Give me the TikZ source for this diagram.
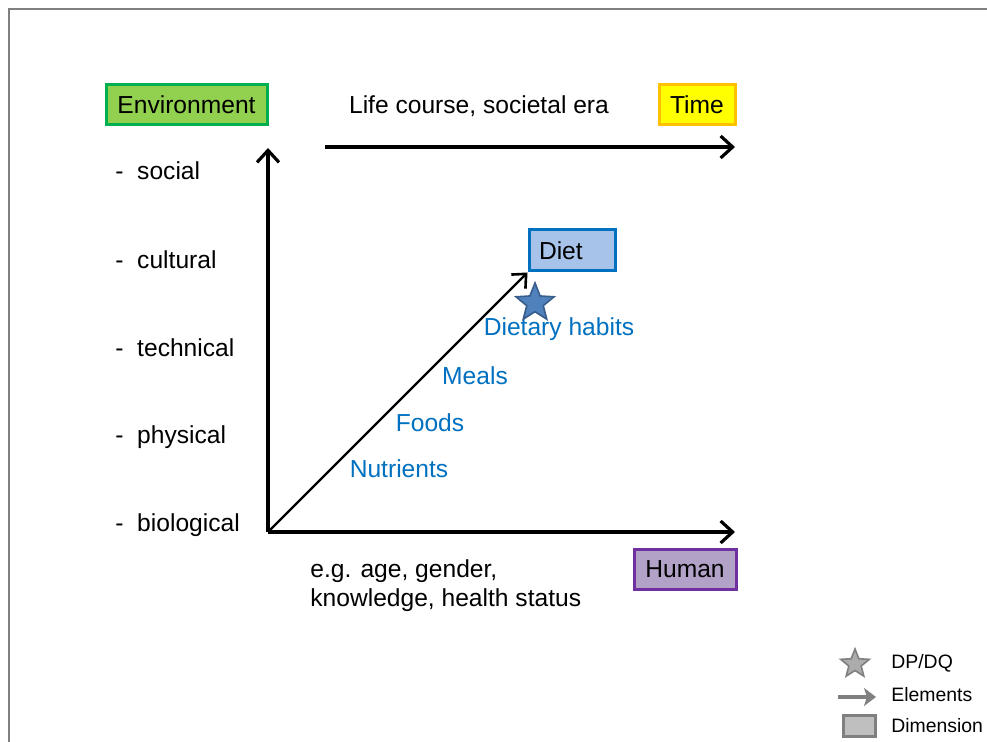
\documentclass[tikz,border=0pt]{standalone}
\usepackage{fontspec}
\setmainfont{Liberation Sans}
\usetikzlibrary{arrows.meta,shapes.geometric}

\definecolor{envfill}{HTML}{92D050}
\definecolor{envline}{HTML}{00B050}
\definecolor{timefill}{HTML}{FFFF00}
\definecolor{timeline}{HTML}{FFC000}
\definecolor{dietfill}{HTML}{A7C3EA}
\definecolor{dietline}{HTML}{0070C0}
\definecolor{humanfill}{HTML}{B3A2C7}
\definecolor{humanline}{HTML}{7030A0}
\definecolor{elemblue}{HTML}{0070C0}
\definecolor{starfill}{HTML}{4F81BD}
\definecolor{starline}{HTML}{385D8A}

\tikzset{
  lbl/.style={inner sep=0pt, font=\fontsize{12.3}{14.5}\selectfont},
  elem/.style={lbl, text=elemblue},
  dimbox/.style={lbl, line width=1.5pt, minimum height=20pt, inner sep=0pt},
  axis/.style={line width=1.6pt, -{Straight Barb[length=6pt,width=11pt,line width=1.6pt]}},
  legend/.style={inner sep=0pt, anchor=west, font=\fontsize{9.7}{11}\selectfont},
}

\begin{document}
\begin{tikzpicture}[x=0.5pt,y=-0.5pt]
        \useasboundingbox (0,0) rectangle (987,742);
        \draw[gray,line width=1.2pt] (990,9) -| (9,745);
        % dimension boxes
        \node[dimbox,fill=envfill,draw=envline,minimum width=80.5pt] (env) at (186.5,105) {Environment};
        \node[dimbox,fill=timefill,draw=timeline,minimum width=38pt] (time) at (697,105) {Time};
        \node[dimbox,fill=humanfill,draw=humanline,minimum width=51pt] (human) at (685,569.5) {Human};
        \node[dimbox,fill=dietfill,draw=dietline,text width=33pt,inner xsep=5pt,align=left,minimum height=20.5pt] (diet) at (572,250.5) {Diet};
        % axes
        \coordinate (origin) at (268,532);
        \coordinate (envtip) at (268,148);
        \coordinate (humtip) at (735,532);
        \coordinate (timestart) at (325,147);
        \coordinate (timetip) at (735,147);
        \draw[axis] (origin) -- (envtip);
        \draw[axis] (origin) -- (humtip);
        \draw[axis] (timestart) -- (timetip);
        \draw[line width=1.2pt,-{Straight Barb[length=5.5pt,width=10pt,line width=1.3pt]}] (origin) -- (diet.south west);
        \node[lbl] (era) at (479,106) {Life course, societal era};
        % environment list
        \node[lbl,anchor=west] (social) at (115,171) {-\ \ social};
        \node[lbl,anchor=west] (cultural) at (115,260) {-\ \ cultural};
        \node[lbl,anchor=west] (technical) at (115,348) {-\ \ technical};
        \node[lbl,anchor=west] (physical) at (115,437) {-\ \ physical};
        \node[lbl,anchor=west] (biological) at (115,525) {-\ \ biological};
        \node[lbl,anchor=west,align=left] (traits) at (310,586) {e.g. age, gender,\\knowledge, health status};
        % elements
        \node[elem] (nutrients) at (399,469) {Nutrients};
        \node[elem] (foods) at (430,423) {Foods};
        \node[elem] (meals) at (475,376) {Meals};
        \node[elem] (habits) at (559,329) {Dietary habits};
        \node[star,star points=5,star point ratio=2.3,fill=starfill,draw=starline,line width=0.8pt,minimum size=20pt,inner sep=0pt] (dpstar) at (535,303) {};
        % legend
        \node[star,star points=5,star point ratio=2.3,fill=gray!65,draw=gray,line width=0.8pt,minimum size=15pt,inner sep=0pt] (legstar) at (855,664) {};
        \node[legend] (legdp) at (891,663) {DP/DQ};
        \coordinate (legarrowa) at (838,697);
        \coordinate (legarrowb) at (876,697);
        \draw[gray,line width=2pt,-{Stealth[length=6pt,width=9pt,inset=1.5pt]}] (legarrowa) -- (legarrowb);
        \node[legend] (legelem) at (891,695) {Elements};
        \node[draw=gray,fill=gray!50,line width=1.5pt,minimum width=16pt,minimum height=10.5pt,inner sep=0pt] (legbox) at (859,726.5) {};
        \node[legend] (legdim) at (891,726) {Dimension};
\end{tikzpicture}
\end{document}
